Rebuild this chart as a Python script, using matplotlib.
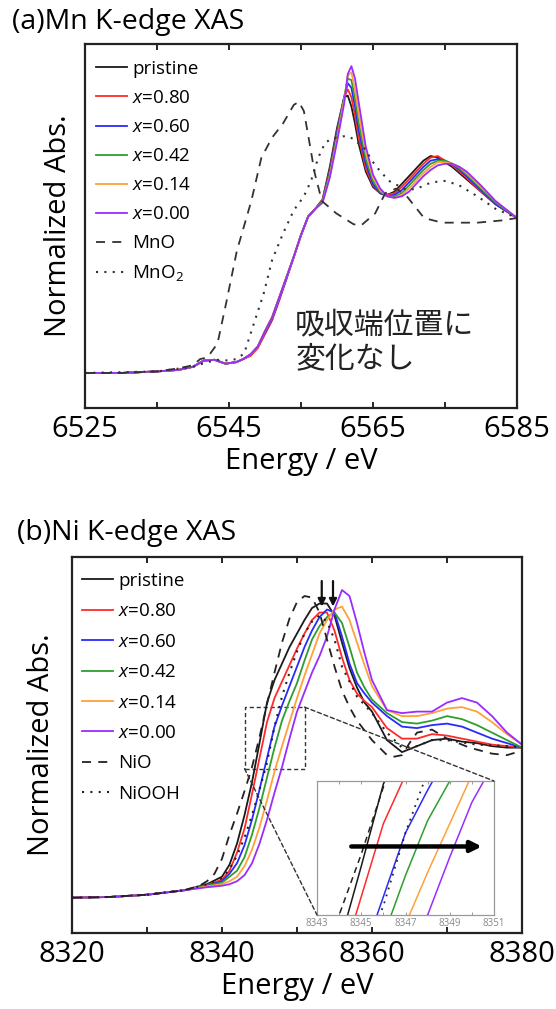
import matplotlib
matplotlib.use("Agg")
import matplotlib.pyplot as plt
from matplotlib.patches import Rectangle, ConnectionPatch

plt.rcParams['font.family'] = ['Open Sans', 'Noto Sans CJK JP', 'DejaVu Sans']
plt.rcParams['mathtext.fontset'] = 'custom'
plt.rcParams['mathtext.rm'] = 'Open Sans'
plt.rcParams['mathtext.it'] = 'Open Sans:italic'

# ---------------- data: Mn K-edge ----------------
mn_energy = [6525, 6530, 6535, 6538, 6540, 6541.5, 6543, 6544.5, 6546, 6547,
             6548, 6549, 6550, 6551, 6552, 6553, 6554, 6555, 6556, 6557, 6558, 6559, 6560,
             6561, 6561.5, 6562, 6562.5, 6563,
             6564, 6565, 6566, 6567, 6568, 6569, 6570, 6571, 6572, 6573, 6574, 6575, 6576, 6577, 6578,
             6580, 6582, 6585]
mn_pristine = [0, 0.0, 0.01, 0.02, 0.04, 0.08, 0.085, 0.06, 0.07, 0.09,
               0.12, 0.17, 0.27, 0.36, 0.49, 0.62, 0.75, 0.89, 1.01, 1.06, 1.12, 1.33, 1.58,
               1.78, 1.79, 1.72, 1.61, 1.48,
               1.30, 1.20, 1.16, 1.15, 1.17, 1.22, 1.27, 1.32, 1.37, 1.40, 1.39, 1.36, 1.33, 1.29, 1.25,
               1.17, 1.09, 1.0]
mn_x080 = [0, 0.0, 0.01, 0.02, 0.04, 0.08, 0.085, 0.06, 0.07, 0.09,
           0.11, 0.16, 0.25, 0.34, 0.47, 0.61, 0.75, 0.89, 1.01, 1.06, 1.12, 1.31, 1.56,
           1.78, 1.83, 1.78, 1.66, 1.52,
           1.32, 1.21, 1.16, 1.15, 1.16, 1.20, 1.25, 1.30, 1.35, 1.39, 1.40, 1.37, 1.34, 1.30, 1.26,
           1.17, 1.09, 1.0]
mn_x060 = [0, 0.0, 0.01, 0.02, 0.04, 0.08, 0.085, 0.06, 0.07, 0.09,
           0.12, 0.17, 0.26, 0.35, 0.48, 0.61, 0.75, 0.89, 1.01, 1.06, 1.11, 1.30, 1.55,
           1.78, 1.87, 1.84, 1.72, 1.57,
           1.35, 1.22, 1.16, 1.14, 1.15, 1.18, 1.23, 1.28, 1.33, 1.37, 1.38, 1.37, 1.35, 1.31, 1.27,
           1.18, 1.09, 1.0]
mn_x042 = [0, 0.0, 0.01, 0.02, 0.04, 0.08, 0.085, 0.06, 0.07, 0.09,
           0.12, 0.17, 0.27, 0.36, 0.49, 0.62, 0.75, 0.89, 1.01, 1.06, 1.11, 1.29, 1.53,
           1.78, 1.90, 1.89, 1.77, 1.62,
           1.38, 1.24, 1.17, 1.14, 1.14, 1.16, 1.21, 1.26, 1.31, 1.35, 1.37, 1.37, 1.35, 1.32, 1.28,
           1.19, 1.10, 1.0]
mn_x014 = [0, 0.0, 0.01, 0.02, 0.04, 0.08, 0.085, 0.06, 0.07, 0.09,
           0.12, 0.17, 0.27, 0.36, 0.49, 0.62, 0.75, 0.89, 1.01, 1.06, 1.10, 1.27, 1.51,
           1.76, 1.92, 1.94, 1.83, 1.68,
           1.42, 1.26, 1.18, 1.14, 1.13, 1.15, 1.19, 1.24, 1.29, 1.33, 1.36, 1.36, 1.35, 1.33, 1.29,
           1.20, 1.11, 1.0]
mn_x000 = [0, 0.0, 0.01, 0.02, 0.04, 0.08, 0.085, 0.06, 0.07, 0.09,
           0.12, 0.17, 0.27, 0.36, 0.49, 0.62, 0.75, 0.89, 1.01, 1.06, 1.10, 1.26, 1.49,
           1.74, 1.93, 1.98, 1.90, 1.75,
           1.46, 1.28, 1.19, 1.14, 1.13, 1.14, 1.17, 1.22, 1.27, 1.31, 1.34, 1.35, 1.35, 1.33, 1.30,
           1.21, 1.11, 1.0]

mno_energy = [6525, 6530, 6535, 6538, 6540, 6541, 6542, 6543.4, 6544.6, 6546.1, 6548.1,
              6549.5, 6551.0, 6552.5, 6554.0, 6554.7, 6555.4, 6556.2, 6556.9, 6557.9, 6559.9,
              6562.3, 6563.3, 6565.3, 6566.7, 6568.2, 6569.7, 6572.1, 6574.6, 6579.5, 6583, 6585]
mno_abs = [0, 0, 0.01, 0.03, 0.05, 0.09, 0.10, 0.19, 0.45, 0.79, 1.11,
           1.39, 1.52, 1.61, 1.73, 1.75, 1.69, 1.48, 1.29, 1.11, 1.03,
           0.96, 0.95, 1.03, 1.16, 1.19, 1.14, 1.00, 0.97, 0.97, 0.985, 1.0]

mno2_energy = [6525, 6535, 6540, 6542, 6543.5, 6545, 6546, 6547.1, 6548.6, 6549.8, 6551.0,
               6552.5, 6554.0, 6555.4, 6556.4, 6557.4, 6558.4, 6559.9, 6561.3, 6562.3, 6563.8,
               6565.3, 6567.2, 6569.7, 6571.1, 6573.1, 6575.1, 6577.0, 6579.5, 6582.0, 6585]
mno2_abs = [0, 0.01, 0.04, 0.07, 0.085, 0.08, 0.09, 0.125, 0.34, 0.51, 0.73,
            0.90, 1.05, 1.14, 1.24, 1.39, 1.49, 1.52, 1.53, 1.51, 1.45,
            1.34, 1.24, 1.18, 1.19, 1.23, 1.24, 1.21, 1.14, 1.06, 1.0]

# ---------------- data: Ni K-edge ----------------
ni_energy = [8320, 8325, 8330, 8335, 8338, 8340, 8341, 8342, 8343, 8344, 8345, 8346, 8347,
             8348, 8349, 8350, 8351, 8352, 8353, 8354, 8355, 8356, 8357, 8358, 8359, 8360,
             8362, 8364, 8366, 8368, 8370, 8372, 8374, 8376, 8378, 8380]
ni_pristine = [0, 0.005, 0.02, 0.05, 0.09, 0.14, 0.22, 0.36, 0.55, 0.77, 1.03, 1.30, 1.45,
               1.56, 1.67, 1.76, 1.85, 1.93, 1.96, 1.96, 1.88, 1.70, 1.53, 1.40, 1.30, 1.24,
               1.05, 0.97, 1.01, 1.05, 1.06, 1.04, 1.03, 1.01, 1.0, 1.0]
ni_x080 = [0, 0.005, 0.02, 0.05, 0.085, 0.12, 0.18, 0.30, 0.46, 0.69, 0.93, 1.17, 1.33,
           1.44, 1.55, 1.66, 1.76, 1.85, 1.90, 1.90, 1.78, 1.60, 1.45, 1.36, 1.31, 1.27,
           1.13, 1.06, 1.06, 1.09, 1.08, 1.06, 1.04, 1.02, 1.01, 1.0]
ni_x060 = [0, 0.005, 0.02, 0.05, 0.08, 0.11, 0.16, 0.23, 0.35, 0.52, 0.72, 0.93, 1.14,
           1.28, 1.41, 1.54, 1.67, 1.78, 1.87, 1.92, 1.90, 1.74, 1.56, 1.43, 1.36, 1.30,
           1.21, 1.14, 1.13, 1.15, 1.16, 1.14, 1.10, 1.06, 1.03, 1.0]
ni_x042 = [0, 0.005, 0.02, 0.05, 0.08, 0.10, 0.14, 0.18, 0.27, 0.42, 0.60, 0.80, 1.00,
           1.18, 1.31, 1.43, 1.58, 1.72, 1.81, 1.87, 1.90, 1.83, 1.67, 1.50, 1.40, 1.32,
           1.23, 1.17, 1.16, 1.18, 1.21, 1.19, 1.15, 1.10, 1.05, 1.0]
ni_x014 = [0, 0.005, 0.02, 0.05, 0.075, 0.09, 0.11, 0.14, 0.21, 0.32, 0.47, 0.65, 0.84,
           1.01, 1.17, 1.33, 1.48, 1.62, 1.76, 1.85, 1.92, 1.94, 1.85, 1.70, 1.55, 1.41,
           1.25, 1.21, 1.21, 1.23, 1.26, 1.27, 1.24, 1.17, 1.09, 1.02]
ni_x000 = [0, 0.005, 0.02, 0.05, 0.07, 0.08, 0.09, 0.11, 0.15, 0.23, 0.36, 0.52, 0.70,
           0.87, 1.06, 1.24, 1.37, 1.50, 1.61, 1.74, 1.92, 2.05, 2.01, 1.83, 1.63, 1.45,
           1.25, 1.23, 1.24, 1.24, 1.30, 1.33, 1.30, 1.21, 1.10, 1.02]

nio_energy = [8320, 8325, 8330, 8335, 8337, 8338, 8339, 8340, 8341, 8342, 8343, 8344, 8345,
              8346, 8347, 8348, 8349, 8350, 8351, 8352, 8353, 8354, 8355, 8356, 8357, 8358,
              8360, 8362, 8363, 8364, 8365, 8366, 8368, 8370, 8373, 8376, 8378, 8380]
nio_abs = [0, 0.005, 0.02, 0.05, 0.08, 0.11, 0.16, 0.26, 0.42, 0.56, 0.71, 0.87, 1.07,
           1.29, 1.50, 1.70, 1.86, 1.97, 2.01, 2.00, 1.90, 1.72, 1.54, 1.38, 1.27, 1.18,
           1.05, 0.95, 0.94, 0.95, 1.03, 1.10, 1.12, 1.06, 1.0, 0.96, 0.95, 0.98]

niooh_energy = [8320, 8325, 8330, 8335, 8338, 8340, 8341, 8342, 8343, 8344, 8345, 8346, 8347,
                8348, 8349, 8350, 8351, 8352, 8353, 8354, 8355, 8356, 8358, 8360, 8362, 8364,
                8366, 8368, 8370, 8374, 8378, 8380]
niooh_abs = [0, 0.005, 0.02, 0.05, 0.09, 0.13, 0.19, 0.28, 0.40, 0.55, 0.72, 0.90, 1.14,
             1.34, 1.50, 1.64, 1.76, 1.84, 1.88, 1.84, 1.72, 1.54, 1.34, 1.23, 1.10, 1.0,
             1.01, 1.05, 1.05, 1.02, 1.01, 1.0]

sample_labels = ['pristine', '$x$=0.80', '$x$=0.60', '$x$=0.42', '$x$=0.14', '$x$=0.00']
sample_colors = ['#1a1a1a', '#ff2a2a', '#2a2aff', '#2e9e2e', '#ffa03c', '#9a2cff']
arrow_energies = [8353.3, 8354.8]
inset_xticks = [8343, 8345, 8347, 8349, 8351]

# ---------------- figure ----------------
W, H = 556, 1009
fig = plt.figure(figsize=(W / 100, H / 100), dpi=100)

def frac(l, t, r, b):
    return [l / W, 1 - b / H, (r - l) / W, (b - t) / H]

def style_axes(ax, xmin, xmax, xt):
    ax.set_xlim(xmin, xmax)
    ax.set_xticks(xt)
    ax.set_xticks(range(xmin, xmax + 1, 10), minor=True)
    ax.tick_params(axis='x', which='both', direction='in', top=True, bottom=True,
                   length=4, width=1.2, labelsize=21, pad=5)
    ax.tick_params(axis='y', left=False, right=False, labelleft=False)
    for s in ax.spines.values():
        s.set_linewidth(1.6)
        s.set_color('#222222')
    ax.set_xlabel('Energy / eV', fontsize=21, labelpad=2)
    ax.set_ylabel('Normalized Abs.', fontsize=21)

# ---- (a) Mn ----
ax1 = fig.add_axes(frac(85, 44, 517, 408))
mn_series = [mn_pristine, mn_x080, mn_x060, mn_x042, mn_x014, mn_x000]
for ys, c, lab in zip(mn_series, sample_colors, sample_labels):
    ax1.plot(mn_energy, ys, color=c, lw=1.3, label=lab)
ax1.plot(mno_energy, mno_abs, color='#333333', lw=1.3, ls=(0, (5, 4)), label='MnO')
ax1.plot(mno2_energy, mno2_abs, color='#333333', lw=1.5, ls=(0, (1, 3)), label='MnO$_2$')
ax1.set_ylim(-0.226, 2.123)
style_axes(ax1, 6525, 6585, [6525, 6545, 6565, 6585])
ax1.yaxis.set_label_coords(-0.028, 0.5)
leg1 = ax1.legend(loc='upper left', bbox_to_anchor=(-0.012, 1.0), frameon=False, fontsize=13.5,
                  handlelength=1.65, handletextpad=0.3, labelspacing=0.59, borderaxespad=0.45)
ax1.text(6554.2, 0.2, '吸収端位置に\n変化なし', fontsize=21.5, ha='left', va='center',
         linespacing=1.1, family=['Noto Sans CJK JP', 'DejaVu Sans'], color='#222222')
fig.text(12 / W, 1 - 22 / H, '(a)Mn K-edge XAS', fontsize=20.5, ha='left', va='center')

# ---- (b) Ni ----
ax2 = fig.add_axes(frac(72, 557, 522, 933))
ni_series = [ni_pristine, ni_x080, ni_x060, ni_x042, ni_x014, ni_x000]
for ys, c, lab in zip(ni_series, sample_colors, sample_labels):
    ax2.plot(ni_energy, ys, color=c, lw=1.3, label=lab)
ax2.plot(nio_energy, nio_abs, color='#222222', lw=1.3, ls=(0, (5, 4)), label='NiO')
ax2.plot(niooh_energy, niooh_abs, color='#222222', lw=1.5, ls=(0, (1, 3)), label='NiOOH')
ax2.set_ylim(-0.235, 2.27)
style_axes(ax2, 8320, 8380, [8320, 8340, 8360, 8380])
ax2.yaxis.set_label_coords(-0.035, 0.5)
leg2 = ax2.legend(loc='upper left', bbox_to_anchor=(-0.012, 1.0), frameon=False, fontsize=13.5,
                  handlelength=1.65, handletextpad=0.3, labelspacing=0.66, borderaxespad=0.4)
fig.text(17 / W, 1 - 533 / H, '(b)Ni K-edge XAS', fontsize=20.5, ha='left', va='center')

for xe in arrow_energies:
    ax2.annotate('', xy=(xe, 1.94), xytext=(xe, 2.11),
                 arrowprops=dict(arrowstyle='-|>', color='#111111', lw=1.6,
                                 mutation_scale=11, shrinkA=0, shrinkB=0))

# zoom box
box_x0, box_x1, box_y0, box_y1 = 8343, 8351, 0.86, 1.27
ax2.add_patch(Rectangle((box_x0, box_y0), box_x1 - box_x0, box_y1 - box_y0, fill=False,
                        ec='#333333', lw=1.0, ls=(0, (3, 2))))

# inset
axi = fig.add_axes(frac(317, 781, 494, 915))
for ys, c in zip(ni_series, sample_colors):
    axi.plot(ni_energy, ys, color=c, lw=1.1)
axi.plot(nio_energy, nio_abs, color='#222222', lw=1.1, ls=(0, (4, 3)))
axi.plot(niooh_energy, niooh_abs, color='#222222', lw=1.3, ls=(0, (1, 3)))
axi.set_xlim(8343, 8351)
axi.set_ylim(0.87, 1.31)
axi.set_xticks(inset_xticks)
axi.set_xticks(range(8343, 8352), minor=True)
axi.tick_params(axis='x', which='both', direction='in', length=2, width=0.6, colors='#888888',
                labelsize=7, pad=2, top=True)
axi.tick_params(axis='y', left=False, labelleft=False)
for s in axi.spines.values():
    s.set_linewidth(0.9)
    s.set_color('#999999')
axi.annotate('', xy=(8350.45, 1.095), xytext=(8344.55, 1.095),
             arrowprops=dict(arrowstyle='-|>', color='black', lw=3.2,
                             mutation_scale=16, shrinkA=0, shrinkB=0))

for (xa, ya), (xb, yb) in [((box_x1, box_y1), (1, 1)), ((box_x0, box_y0), (0, 0))]:
    cp = ConnectionPatch(xyA=(xa, ya), coordsA=ax2.transData, xyB=(xb, yb), coordsB=axi.transAxes,
                         color='#333333', lw=1.0, ls=(0, (3, 2)))
    fig.add_artist(cp)

fig.savefig('out.png', dpi=100)
